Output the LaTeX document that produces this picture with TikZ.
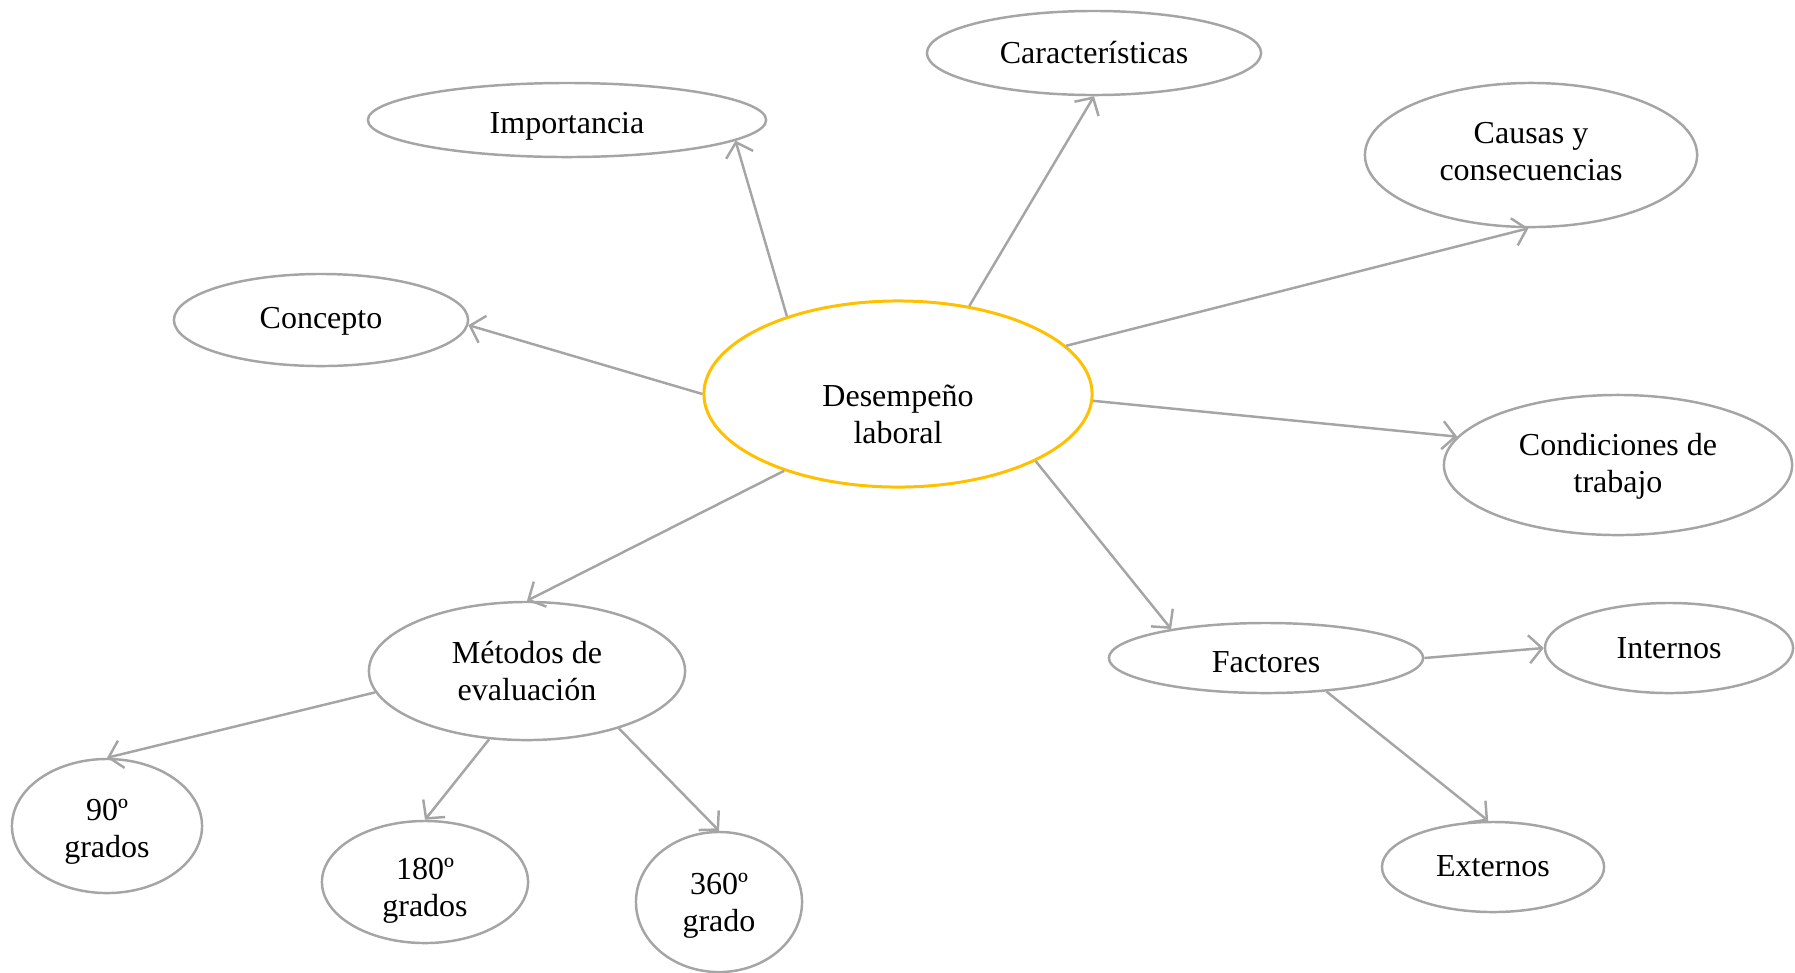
\documentclass[tikz,border=0pt]{standalone}
\usepackage{fontspec}
\setmainfont{Liberation Serif}
\usetikzlibrary{arrows.meta,shapes.geometric}
\definecolor{LineGray}{RGB}{165,165,165}
\definecolor{CoreGold}{RGB}{255,192,0}
\newcommand{\droptext}[2]{%
  \raisebox{-#1}[\height][\depth]{\begin{tabular}{@{}c@{}}#2\end{tabular}}}
\tikzset{
  bubble/.style={ellipse,draw=LineGray,line width=0.7pt,inner sep=0pt,
    font=\fontsize{9.1}{10.5}\selectfont},
  core/.style={bubble,draw=CoreGold,line width=0.85pt},
  link/.style={draw=LineGray,line width=0.7pt,-{Straight Barb[length=1.3mm,width=2.8mm]}}
}
\begin{document}
\begin{tikzpicture}[x=0.01cm,y=-0.01cm]
  \useasboundingbox (0,0) rectangle (1795,972);
  \node[core,minimum width=3.88cm,minimum height=1.86cm] (des) at (898,394) {\droptext{0.24cm}{Desempeño\\laboral}};
  \node[bubble,minimum width=3.98cm,minimum height=0.74cm] (imp) at (567,120) {\droptext{0.06cm}{Importancia}};
  \node[bubble,minimum width=3.34cm,minimum height=0.84cm] (car) at (1094,53) {\droptext{0.03cm}{Características}};
  \node[bubble,minimum width=3.32cm,minimum height=1.44cm] (cau) at (1531,155) {\droptext{0cm}{Causas y\\consecuencias}};
  \node[bubble,minimum width=2.94cm,minimum height=0.92cm] (conc) at (321,320) {\droptext{0.01cm}{Concepto}};
  \node[bubble,minimum width=3.48cm,minimum height=1.40cm] (cond) at (1618,465) {\droptext{0.02cm}{Condiciones de\\trabajo}};
  \node[bubble,minimum width=3.14cm,minimum height=0.70cm] (fac) at (1266,658) {\droptext{0.07cm}{Factores}};
  \node[bubble,minimum width=2.48cm,minimum height=0.90cm] (int) at (1669,648) {\droptext{0.035cm}{Internos}};
  \node[bubble,minimum width=2.22cm,minimum height=0.90cm] (ext) at (1493,867) {\droptext{0.025cm}{Externos}};
  \node[bubble,minimum width=3.16cm,minimum height=1.38cm] (met) at (527,671) {\droptext{0.035cm}{Métodos de\\evaluación}};
  \node[bubble,minimum width=1.90cm,minimum height=1.34cm] (g90) at (107,826) {\droptext{0.06cm}{90º\\grados}};
  \node[bubble,minimum width=2.06cm,minimum height=1.22cm] (g180) at (425,882) {\droptext{0.09cm}{180º\\grados}};
  \node[bubble,minimum width=1.66cm,minimum height=1.40cm] (g360) at (719,902) {\droptext{0.04cm}{360º\\grado}};
  \draw[link] (des.145) -- (imp.-7);
  \draw[link] (des.51.5) -- (car.270);
  \draw[link] (des.16.3) -- (cau.268);
  \draw[link] (des.180) -- (conc.-2.7);
  \draw[link] (des.-2.6) -- (cond.170.7);
  \draw[link] (des.-26.2) -- (fac.163);
  \draw[link] (des.214.6) -- (met.90);
  \draw[link] (fac.0) -- (int.180);
  \draw[link] (fac.-29.7) -- (ext.96);
  \draw[link] (met.188.2) -- (g90.90);
  \draw[link] (met.241.8) -- (g180.90);
  \draw[link] (met.328.7) -- (g360.90);
\end{tikzpicture}
\end{document}
